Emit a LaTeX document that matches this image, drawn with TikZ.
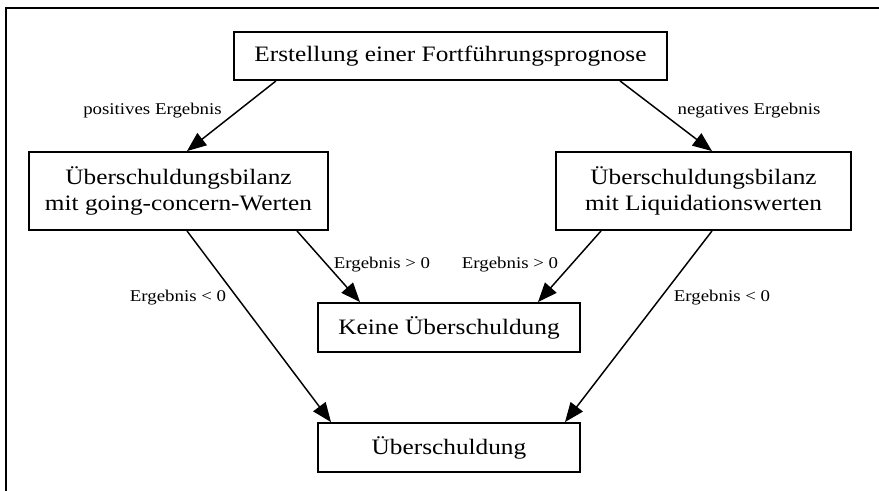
\documentclass[tikz,border=0pt]{standalone}
\usepackage{fontspec}
\setmainfont{Liberation Serif}[FakeStretch=1.15]
\usetikzlibrary{arrows.meta,calc}
\begin{document}
\begin{tikzpicture}[x=0.75pt,y=-0.75pt,
  box/.style={draw,line width=1.4pt,inner sep=0pt,align=center,font=\fontsize{16.5}{19.5}\selectfont},
  lab/.style={font=\fontsize{12.3}{14}\selectfont,inner sep=0pt},
  conn/.style={line width=1.1pt,-{Triangle[length=14.5pt,width=11.5pt]}}]
\useasboundingbox (0,0) rectangle (879,490);
\draw[line width=1.5pt] (6,491) -- (6,8) -- (880,8);
\node[box,minimum width=433*0.75pt,minimum height=48*0.75pt] (top) at (450.5,56) {Erstellung einer Fortführungsprognose};
\node[box,minimum width=299*0.75pt,minimum height=78*0.75pt] (left) at (178.5,191) {Überschuldungsbilanz\\mit going-concern-Werten};
\node[box,minimum width=295*0.75pt,minimum height=78*0.75pt] (right) at (703.5,191) {Überschuldungsbilanz\\mit Liquidationswerten};
\node[box,minimum width=262*0.75pt,minimum height=49*0.75pt] (keine) at (449,327.5) {Keine Überschuldung};
\node[box,minimum width=262*0.75pt,minimum height=49*0.75pt] (ueber) at (449,447.5) {Überschuldung};
\draw[conn] ($(top.south)+(-174.5,0)$) -- ($(left.north)+(8.5,0)$);
\draw[conn] ($(top.south)+(169.5,0)$) -- ($(right.north)+(8.5,0)$);
\draw[conn] ($(left.south)+(118.5,0)$) -- ($(keine.north)+(-89,0)$);
\draw[conn] ($(right.south)+(-102.5,0)$) -- ($(keine.north)+(89,0)$);
\draw[conn] ($(left.south)+(8.5,0)$) -- ($(ueber.north)+(-118,0)$);
\draw[conn] ($(right.south)+(8.5,0)$) -- ($(ueber.north)+(116,0)$);
\node[lab] (l1) at (152.5,111) {positives Ergebnis};
\node[lab] (l2) at (749,111) {negatives Ergebnis};
\node[lab] (l3) at (382,265) {Ergebnis > 0};
\node[lab] (l4) at (510,265) {Ergebnis > 0};
\node[lab] (l5) at (178,298) {Ergebnis < 0};
\node[lab] (l6) at (722,298) {Ergebnis < 0};
\end{tikzpicture}
\end{document}
